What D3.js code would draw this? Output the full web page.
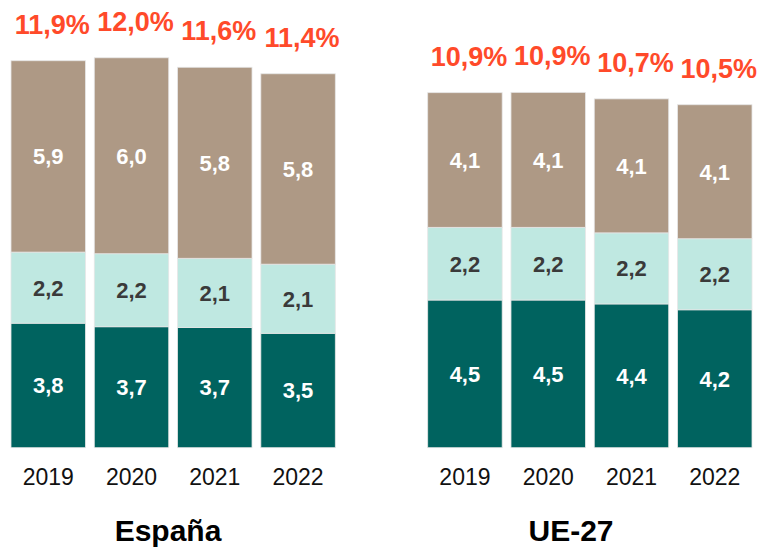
<!DOCTYPE html>
<html>
<head>
<meta charset="utf-8">
<script src="https://cdn.jsdelivr.net/npm/d3@7"></script>
<style>
  html, body { margin: 0; padding: 0; background: #fff; }
  svg { display: block; font-family: "Liberation Sans", Arial, sans-serif; }
</style>
</head>
<body>
<svg id="chart" width="758" height="550"></svg>
<script>
// ---- data ----
const years = ["2019", "2020", "2021", "2022"];
const groups = ["España", "UE-27"];
const seriesKeys = ["teal", "mint", "brown"];

// bottom segment (dark teal)
const espTeal  = [3.82, 3.71, 3.69, 3.51];
const ueTeal   = [4.53, 4.53, 4.41, 4.23];
// middle segment (mint)
const espMint  = [2.18, 2.24, 2.12, 2.12];
const ueMint   = [2.23, 2.23, 2.18, 2.18];
// top segment (brown)
const espBrown = [5.87, 6.01, 5.86, 5.84];
const ueBrown  = [4.13, 4.14, 4.11, 4.11];
// segment labels
const espTealLbl  = ["3,8", "3,7", "3,7", "3,5"];
const ueTealLbl   = ["4,5", "4,5", "4,4", "4,2"];
const espMintLbl  = ["2,2", "2,2", "2,1", "2,1"];
const ueMintLbl   = ["2,2", "2,2", "2,2", "2,2"];
const espBrownLbl = ["5,9", "6,0", "5,8", "5,8"];
const ueBrownLbl  = ["4,1", "4,1", "4,1", "4,1"];
// totals
const espTotal = [11.9, 12.0, 11.6, 11.4];
const ueTotal  = [10.9, 10.9, 10.7, 10.5];

// ---- styles ----
const colors = { teal: "#00635F", mint: "#BFE8E1", brown: "#AE9985" };
const labelColors = { teal: "#ffffff", mint: "#3a3a3a", brown: "#ffffff" };
const totalColor = "#FF4A2A";

const svg = d3.select("#chart");
const baseline = 447.7;
const y = d3.scaleLinear().domain([0, 13]).range([baseline, baseline - 13 * 32.6]);

const fmtTotal = d => d.toFixed(1).replace(".", ",") + "%";

function buildRows(teal, mint, brown, tl, ml, bl, tot) {
  return years.map((yr, i) => ({
    year: yr, teal: teal[i], mint: mint[i], brown: brown[i],
    lbl: { teal: tl[i], mint: ml[i], brown: bl[i] }, total: tot[i]
  }));
}

const groupData = [
  { name: groups[0], range: [11, 335.3], titleX: 168,
    rows: buildRows(espTeal, espMint, espBrown, espTealLbl, espMintLbl, espBrownLbl, espTotal) },
  { name: groups[1], range: [427.7, 752], titleX: 571,
    rows: buildRows(ueTeal, ueMint, ueBrown, ueTealLbl, ueMintLbl, ueBrownLbl, ueTotal) }
];

const stack = d3.stack().keys(seriesKeys);

groupData.forEach(g => {
  const x = d3.scaleBand().domain(years).range(g.range).paddingInner(0.106).paddingOuter(0);
  const gg = svg.append("g");
  const stacked = stack(g.rows);

  stacked.forEach(layer => {
    const key = layer.key;
    gg.selectAll(null).data(layer).join("rect")
      .attr("x", d => x(d.data.year))
      .attr("width", x.bandwidth())
      .attr("y", d => y(d[1]))
      .attr("height", d => y(d[0]) - y(d[1]))
      .attr("fill", colors[key])
      .attr("stroke", "#e6e6e6")
      .attr("stroke-width", 0.8);

    gg.selectAll(null).data(layer).join("text")
      .attr("x", d => x(d.data.year) + x.bandwidth() / 2)
      .attr("y", d => (y(d[0]) + y(d[1])) / 2)
      .attr("dy", "0.36em")
      .attr("text-anchor", "middle")
      .attr("font-size", 22)
      .attr("font-weight", "bold")
      .attr("fill", labelColors[key])
      .text(d => d.data.lbl[key]);
  });

  const top = stacked[stacked.length - 1];
  gg.selectAll(null).data(top).join("text")
    .attr("x", d => x(d.data.year) + x.bandwidth() / 2 + 4)
    .attr("y", d => y(d[1]) - 27)
    .attr("text-anchor", "middle")
    .attr("font-size", 27)
    .attr("font-weight", "bold")
    .attr("fill", totalColor)
    .text(d => fmtTotal(d.data.total));

  // year axis labels
  const axis = d3.axisBottom(x).tickSize(0).tickPadding(0);
  const ax = gg.append("g").attr("transform", `translate(0,${baseline})`).call(axis);
  ax.select(".domain").remove();
  ax.selectAll("text")
    .attr("y", 37)
    .attr("dy", 0)
    .attr("font-size", 23)
    .attr("font-family", "'Liberation Sans', Arial, sans-serif")
    .attr("fill", "#111");

  gg.append("text")
    .attr("x", g.titleX)
    .attr("y", 541)
    .attr("text-anchor", "middle")
    .attr("font-size", 30)
    .attr("font-weight", "bold")
    .attr("fill", "#000")
    .text(g.name);
});
</script>
</body>
</html>
